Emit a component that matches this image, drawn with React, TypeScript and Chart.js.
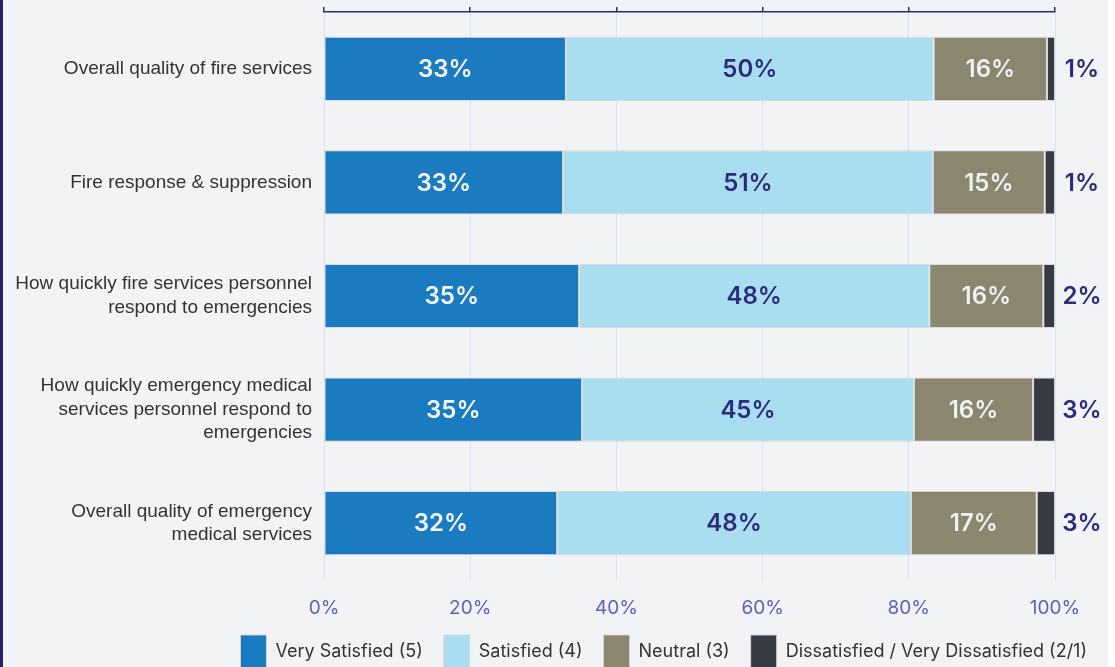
import React, { useEffect, useRef } from "react";
import { Chart, registerables } from "chart.js";

Chart.register(...registerables);

const categories: (string | string[])[] = [
  "Overall quality of fire services",
  "Fire response & suppression",
  ["How quickly fire services personnel", "respond to emergencies"],
  ["How quickly emergency medical", "services personnel respond to", "emergencies"],
  ["Overall quality of emergency", "medical services"],
];

const seriesNames = [
  "Very Satisfied (5)",
  "Satisfied (4)",
  "Neutral (3)",
  "Dissatisfied / Very Dissatisfied (2/1)",
];

const verySatisfied = [33.1, 32.7, 34.9, 35.3, 31.9];
const satisfied = [50.3, 50.6, 47.9, 45.4, 48.4];
const neutral = [15.5, 15.3, 15.6, 16.3, 17.2];
const dissatisfied = [1.1, 1.4, 1.6, 3.0, 2.5];

const xTicks = [0, 20, 40, 60, 80, 100];

const seriesColors = ["#1b7bc0", "#a8def0", "#8b8670", "#363a42"];
const labelColors = ["#f4f5f7", "#2b2d7c", "#f0f0f0", "#2b2d7c"];

const NAVY = "#2b2d7c";
const GRID = "#dcdef1";
const LABEL_FONT = "Inter, 'Noto Sans', sans-serif";

const valueLabels = {
  id: "valueLabels",
  afterDatasetsDraw(chart: any) {
    const ctx = chart.ctx;
    ctx.save();
    ctx.font = `600 24px ${LABEL_FONT}`;
    ctx.textBaseline = "middle";
    ctx.textAlign = "center";
    chart.data.datasets.forEach((ds: any, di: number) => {
      const meta = chart.getDatasetMeta(di);
      meta.data.forEach((bar: any, i: number) => {
        const v = ds.data[i] as number;
        const text = Math.round(v) + "%";
        ctx.fillStyle = labelColors[di];
        let x = (bar.x + bar.base) / 2;
        if (di === seriesNames.length - 1) x = bar.x + 27;
        ctx.fillText(text, x, bar.y + 1);
      });
    });
    ctx.restore();
  },
};

export default function App() {
  const ref = useRef<HTMLCanvasElement>(null);

  useEffect(() => {
    if (!ref.current) return;
    const values = [verySatisfied, satisfied, neutral, dissatisfied];
    const chart = new Chart(ref.current, {
      type: "bar",
      data: {
        labels: categories as any,
        datasets: seriesNames.map((name, i) => ({
          label: name,
          data: values[i],
          backgroundColor: seriesColors[i],
          borderColor: "rgba(215,215,215,0.9)",
          borderWidth: 1,
          borderSkipped: false,
          barPercentage: 0.565,
          categoryPercentage: 1,
        })),
      },
      options: {
        indexAxis: "y",
        animation: false,
        responsive: false,
        maintainAspectRatio: false,
        layout: { padding: { top: 7, right: 0, left: 0, bottom: 0 } },
        plugins: {
          tooltip: { enabled: false },
          legend: {
            position: "bottom",
            align: "end",
            labels: {
              boxWidth: 26,
              boxHeight: 34,
              padding: 21,
              color: "#333333",
              font: { family: LABEL_FONT, size: 18 },
            },
          },
        },
        scales: {
          x: {
            stacked: true,
            min: 0,
            max: 100,
            afterBuildTicks: (axis: any) => {
              axis.ticks = xTicks.map((v) => ({ value: v }));
            },
            afterFit: (axis: any) => {
              axis.height = 34;
            },
            grid: { color: GRID, lineWidth: 1, drawTicks: false },
            border: { display: false },
            ticks: {
              padding: 17,
              color: "#5a63b5",
              font: { family: LABEL_FONT, size: 19 },
              callback: (v: any) => v + "%",
            },
          },
          x2: {
            position: "top",
            min: 0,
            max: 100,
            afterBuildTicks: (axis: any) => {
              axis.ticks = xTicks.map((v) => ({ value: v }));
            },
            grid: {
              drawOnChartArea: false,
              drawTicks: true,
              tickLength: 5,
              tickColor: NAVY,
              lineWidth: 1.5,
            },
            border: { display: true, color: NAVY, width: 1.5 },
            ticks: { display: false },
          },
          y: {
            stacked: true,
            afterFit: (axis: any) => {
              axis.width = 321;
              axis.paddingTop = 0;
              axis.paddingBottom = 0;
            },
            grid: { display: false, drawTicks: false },
            border: { display: false },
            ticks: {
              padding: 12,
              color: "#333333",
              font: { family: "'Liberation Sans', Arial, sans-serif", size: 19, lineHeight: 1.24 },
            },
          },
          yRightSpace: {
            position: "right",
            type: "linear",
            afterFit: (axis: any) => {
              axis.width = 53;
              axis.paddingTop = 0;
              axis.paddingBottom = 0;
            },
            grid: { display: false, drawTicks: false },
            border: { display: false },
            ticks: { display: false },
          },
        },
      },
      plugins: [valueLabels],
    });
    return () => chart.destroy();
  }, []);

  return (
    <div
      style={{
        position: "fixed",
        top: 0,
        left: 0,
        width: 1108,
        height: 679,
        background: "#f2f3f5",
        borderLeft: "3px solid #22246b",
        boxSizing: "border-box",
      }}
    >
      <canvas ref={ref} width={1105} height={679} style={{ display: "block" }} />
    </div>
  );
}
